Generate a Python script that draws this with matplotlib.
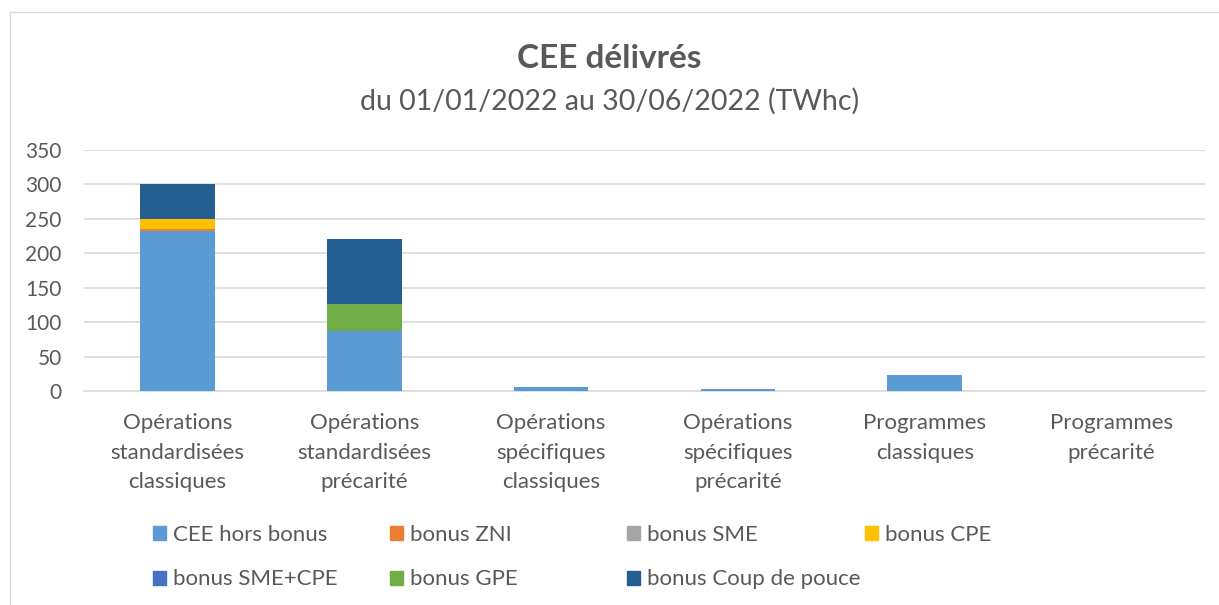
import matplotlib
matplotlib.use('Agg')
import matplotlib.pyplot as plt
import numpy as np
from matplotlib.patches import Rectangle, Patch

plt.rcParams['font.family'] = ['Lato', 'DejaVu Sans']

categories = ['Opérations\nstandardisées\nclassiques', 'Opérations\nstandardisées\nprécarité',
              'Opérations\nspécifiques\nclassiques', 'Opérations\nspécifiques\nprécarité',
              'Programmes\nclassiques', 'Programmes\nprécarité']
series_names = ['CEE hors bonus', 'bonus ZNI', 'bonus SME', 'bonus CPE',
                'bonus SME+CPE', 'bonus GPE', 'bonus Coup de pouce']
hors_bonus = [233, 87, 6, 3.5, 23, 0]
bonus_zni = [2, 0, 0, 0, 0, 0]
bonus_sme = [0, 0, 0, 0, 0, 0]
bonus_cpe = [15, 0, 0, 0, 0, 0]
bonus_sme_cpe = [0, 0, 0, 0, 0, 0]
bonus_gpe = [0, 40, 0, 0, 0, 0]
bonus_cdp = [50, 94, 0, 0, 0, 0]
colors = ['#5B9BD5', '#ED7D31', '#A5A5A5', '#FFC000', '#4472C4', '#70AD47', '#255E91']

series = [hors_bonus, bonus_zni, bonus_sme, bonus_cpe, bonus_sme_cpe, bonus_gpe, bonus_cdp]
text_col = '#595959'

fig = plt.figure(figsize=(12.19, 6.05), dpi=100)
fig.add_artist(Rectangle((10 / 1219, -0.01), 1.0, 1 - 12 / 605 + 0.01, transform=fig.transFigure,
                         fill=False, edgecolor='#d9d9d9', lw=1))
ax = fig.add_axes([84 / 1219, 1 - 391 / 605, 1121 / 1219, 241 / 605])

x = np.arange(len(categories))
bottom = np.zeros(len(categories))
for vals, name, c in zip(series, series_names, colors):
    v = np.array(vals, dtype=float)
    ax.bar(x, v, 0.4, bottom=bottom, color=c, label=name, zorder=3)
    bottom += v

ax.set_xlim(-0.5, len(categories) - 0.5)
ax.set_ylim(0, 350)
ax.set_yticks(np.arange(0, 351, 50))
ax.yaxis.grid(True, color='#d9d9d9', lw=1.2, zorder=0)
ax.set_axisbelow(True)
for s in ['top', 'right', 'left']:
    ax.spines[s].set_visible(False)
ax.spines['bottom'].set_color('#d9d9d9')
ax.spines['bottom'].set_linewidth(1.2)
ax.tick_params(axis='both', length=0, colors=text_col, labelsize=15)
ax.tick_params(axis='y', pad=16)
ax.set_xticks(x)
ax.set_xticklabels(categories, linespacing=1.58, fontsize=16)
ax.tick_params(axis='x', pad=16)

fig.text(0.5, 1 - 58 / 605, 'CEE délivrés', ha='center', va='center', fontsize=24,
         fontweight='bold', color=text_col)
fig.text(0.5, 1 - 101 / 605, 'du 01/01/2022 au 30/06/2022 (TWhc)', ha='center', va='center',
         fontsize=20.5, color=text_col)

# legend: Excel fills rows first, so one small legend per column
col_x = [153, 390, 627, 865]
for j in range(4):
    idx = [j, j + 4] if j + 4 < len(series_names) else [j]
    handles = [Patch(color=colors[i], label=series_names[i]) for i in idx]
    leg = fig.legend(handles=handles, loc='upper left',
                     bbox_to_anchor=(col_x[j] / 1219, 1 - 525 / 605), frameon=False,
                     fontsize=16, handlelength=0.6, handleheight=0.6, handletextpad=0.3,
                     labelspacing=1.1, borderaxespad=0, borderpad=0)
    for t in leg.get_texts():
        t.set_color(text_col)

fig.savefig('out.png', dpi=100)
